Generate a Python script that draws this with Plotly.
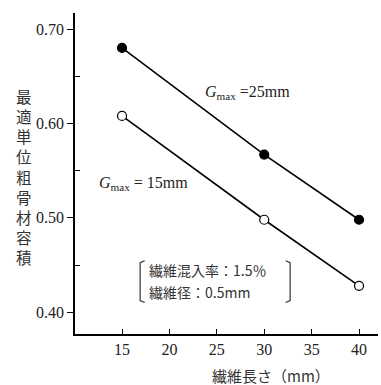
import plotly.graph_objects as go

fiber_length = [15, 30, 40]
g25_values = [0.680, 0.567, 0.498]
g15_values = [0.608, 0.498, 0.428]
x_ticks = [15, 20, 25, 30, 35, 40]
y_ticks = [0.40, 0.50, 0.60, 0.70]
y_tick_labels = ["0.40", "0.50", "0.60", "0.70"]
y_minor_ticks = [0.45, 0.55, 0.65]

serif = "Liberation Serif, DejaVu Serif, serif"
cjk = "Noto Sans CJK JP, sans-serif"

fig = go.Figure()
fig.add_trace(go.Scatter(
    x=fiber_length, y=g25_values, mode="lines+markers",
    line=dict(color="black", width=1.6),
    marker=dict(symbol="circle", size=9, color="black", line=dict(color="black", width=1.2)),
    showlegend=False))
fig.add_trace(go.Scatter(
    x=fiber_length, y=g15_values, mode="lines+markers",
    line=dict(color="black", width=1.6),
    marker=dict(symbol="circle", size=9, color="white", line=dict(color="black", width=1.2)),
    showlegend=False))

fig.update_xaxes(
    range=[10.04, 42.0], tickvals=x_ticks, ticks="inside", ticklen=5, tickcolor="black",
    showline=True, linecolor="black", linewidth=1.5, showgrid=False, zeroline=False,
    tickfont=dict(family=serif, size=16, color="#222"))
fig.update_yaxes(
    range=[0.377, 0.717], tickvals=y_ticks, ticktext=y_tick_labels, ticks="outside",
    ticklen=6, tickcolor="black",
    minor=dict(tickvals=y_minor_ticks, ticks="inside", ticklen=5, tickcolor="black"),
    showline=True, linecolor="black", linewidth=1.5, showgrid=False, zeroline=False,
    tickfont=dict(family=serif, size=16, color="#222"))

annotations = [
    dict(x=0.422, y=0.751, xref="paper", yref="paper", xanchor="left", yanchor="middle",
         text="<i>G</i><sub>max</sub> =25mm", showarrow=False,
         font=dict(family=serif, size=16, color="#222")),
    dict(x=0.073, y=0.47, xref="paper", yref="paper", xanchor="left", yanchor="middle",
         text="<i>G</i><sub>max</sub> = 15mm", showarrow=False,
         font=dict(family=serif, size=16, color="#222")),
    dict(x=0.238, y=0.199, xref="paper", yref="paper", xanchor="left", yanchor="middle",
         text="繊維混入率：1.5％", showarrow=False,
         font=dict(family=cjk, size=14, color="#333")),
    dict(x=0.238, y=0.131, xref="paper", yref="paper", xanchor="left", yanchor="middle",
         text="繊維径：0.5mm", showarrow=False,
         font=dict(family=cjk, size=14, color="#333")),
    dict(x=-0.168, y=0.49, xref="paper", yref="paper", xanchor="center", yanchor="middle",
         text="<br>".join(list("最適単位粗骨材容積")), showarrow=False,
         font=dict(family=cjk, size=15.5, color="#333")),
    dict(x=0.647, y=-0.09, xref="paper", yref="paper", xanchor="center", yanchor="top",
         text="繊維長さ（mm）", showarrow=False,
         font=dict(family=cjk, size=15, color="#333")),
]

shapes = [
    dict(type="path", xref="paper", yref="paper",
         path="M 0.230 0.228 L 0.215 0.222 L 0.215 0.104 L 0.230 0.098",
         line=dict(color="#333", width=1.2)),
    dict(type="path", xref="paper", yref="paper",
         path="M 0.695 0.228 L 0.710 0.222 L 0.710 0.104 L 0.695 0.098",
         line=dict(color="#333", width=1.2)),
]

fig.update_layout(
    width=381, height=385,
    margin=dict(l=75, r=3, t=13, b=51),
    paper_bgcolor="white", plot_bgcolor="white",
    annotations=annotations, shapes=shapes,
)

fig.write_html("out.html")
